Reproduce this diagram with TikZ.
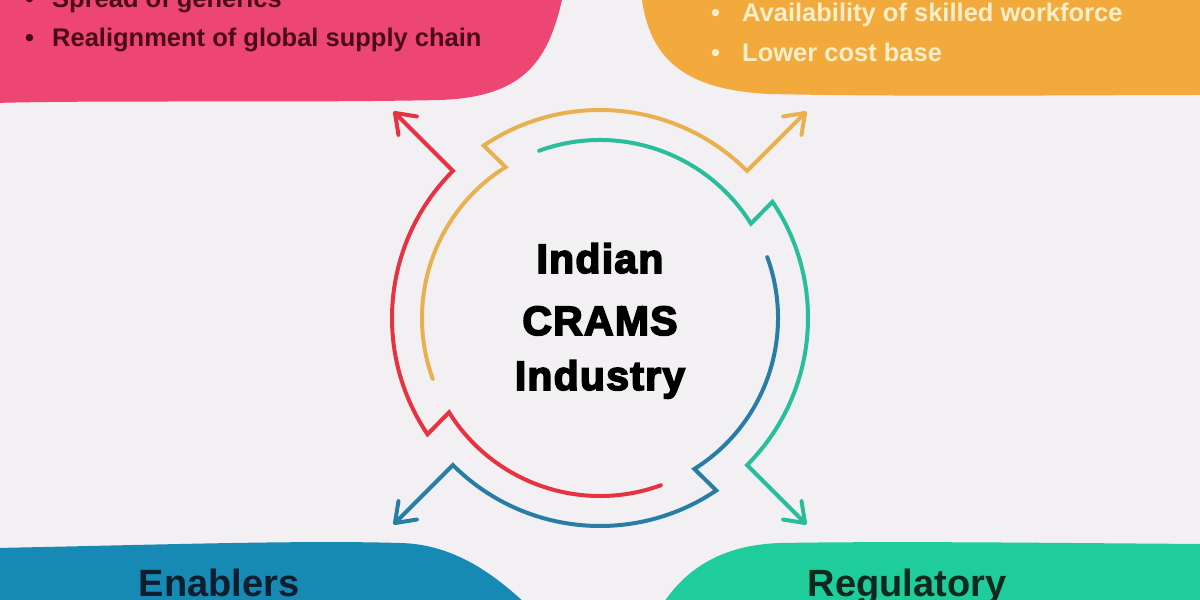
\documentclass[tikz,border=0pt]{standalone}
\usepackage{fontspec}
\setmainfont{Liberation Sans}
\newfontfamily\heavyfont[FakeBold=4, LetterSpace=3]{Liberation Sans Bold}
\usetikzlibrary{calc,arrows.meta}
\definecolor{bgc}{RGB}{243,240,244}
\definecolor{pinkpanel}{RGB}{238,70,115}
\definecolor{orangepanel}{RGB}{243,170,60}
\definecolor{bluepanel}{RGB}{22,137,180}
\definecolor{tealpanel}{RGB}{30,205,155}
\definecolor{redline}{RGB}{230,50,65}
\definecolor{yellowline}{RGB}{233,176,80}
\definecolor{tealline}{RGB}{40,190,155}
\definecolor{blueline}{RGB}{40,125,165}
\definecolor{maroontext}{RGB}{75,10,25}
\definecolor{creamtext}{RGB}{252,238,200}
\definecolor{navytext}{RGB}{15,30,45}
\definecolor{greentext}{RGB}{15,40,30}
\tikzset{
  arrowline/.style={line width=4pt, line cap=round, line join=miter,
    -{Straight Barb[length=18pt,width=26pt,round]}},
  bullettext/.style={anchor=base west, inner sep=0pt, font=\bfseries\fontsize{25.5}{30}\selectfont},
  centertext/.style={anchor=base, inner sep=0pt, font=\heavyfont\fontsize{41}{48}\selectfont},
  paneltitle/.style={anchor=base, inner sep=0pt, font=\bfseries\fontsize{38}{44}\selectfont},
}
\begin{document}
\begin{tikzpicture}[x=1pt,y=1pt]
\useasboundingbox (0,0) rectangle (1200,600);
\fill[bgc] (0,0) rectangle (1200,600);
% panels
\fill[pinkpanel] (-5,605) -- (562,605) -- (562,600) .. controls (548,540) and (525,503) .. (440,500)
  .. controls (300,497) and (100,500) .. (-5,497) -- cycle;
\fill[orangepanel] (640,605) -- (642,600) .. controls (650,545) and (680,510) .. (770,506)
  .. controls (900,503) and (1100,505) .. (1205,505) -- (1205,605) -- cycle;
\fill[bluepanel] (-5,-5) -- (-5,52) .. controls (150,55) and (300,60) .. (400,57)
  .. controls (450,56) and (490,30) .. (527,-5) -- cycle;
\fill[tealpanel] (1205,-5) -- (1205,56) .. controls (1050,57) and (900,59) .. (780,57)
  .. controls (720,55) and (685,30) .. (662,-5) -- cycle;
% panel texts
\node[bullettext, text=maroontext] (b1) at (25,592) {•};
\node[bullettext, text=maroontext] (t1) at (52,592) {Spread of generics};
\node[bullettext, text=maroontext] (b2) at (25,553) {•};
\node[bullettext, text=maroontext] (t2) at (52,553) {Realignment of global supply chain};
\node[bullettext, text=creamtext] (b3) at (711,578) {•};
\node[bullettext, text=creamtext] (t3) at (742,578) {Availability of skilled workforce};
\node[bullettext, text=creamtext] (b4) at (711,538.5) {•};
\node[bullettext, text=creamtext] (t4) at (742,538.5) {Lower cost base};
\node[paneltitle, text=navytext] (enablers) at (219,3) {Enablers};
\node[paneltitle, text=greentext] (regulatory) at (907,3) {Regulatory};
% center
\coordinate (C) at (600,282);
\node[centertext] (l1) at (600,327) {Indian};
\node[centertext] (l2) at (600,265) {CRAMS};
\node[centertext] (l3) at (600,210) {Industry};
% circular arrows
\foreach \c/\a in {redline/290, yellowline/200, tealline/110, blueline/20}{
  \pgfmathsetmacro\b{\a-78}
  \pgfmathsetmacro\bb{\a-76}
  \pgfmathsetmacro\e{\a-155}
  \coordinate (s-\c) at ($(C)+(\a:178)$);
  \coordinate (tip-\c) at ($(C)+(\e:292)$);
  \draw[arrowline, draw=\c] (s-\c) arc[start angle=\a, end angle=\b, radius=178]
    -- ($(C)+(\bb:208)$) arc[start angle=\bb, end angle=\e, radius=208] -- (tip-\c);
}
\end{tikzpicture}
\end{document}
